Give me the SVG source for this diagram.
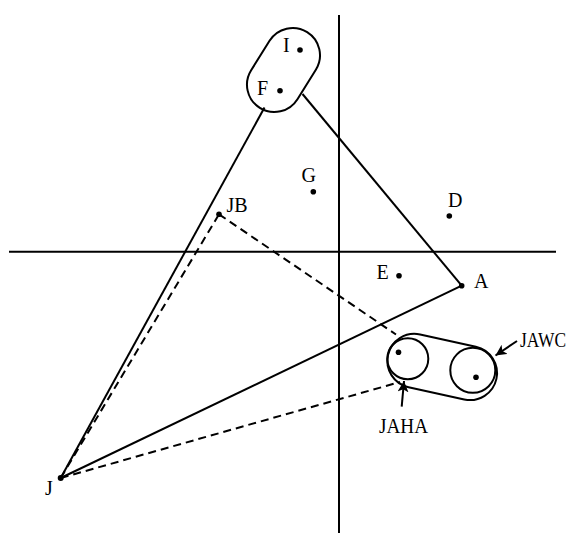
<svg xmlns="http://www.w3.org/2000/svg" width="576" height="533" viewBox="0 0 576 533">
<defs>
<style>
.ln{stroke:#000;stroke-width:2;fill:none}
.dash{stroke:#000;stroke-width:2;fill:none;stroke-dasharray:8 5}
.dot{fill:#000}
.lbl{font-family:"Liberation Serif","Times New Roman",serif;font-size:20px;fill:#000}
.shape{stroke:#000;stroke-width:2;fill:none}
</style>
<marker id="ah" viewBox="0 0 10 10" refX="10" refY="5" markerWidth="11" markerHeight="11" markerUnits="userSpaceOnUse" orient="auto">
<path d="M0,0 L10,5 L0,10 L2.5,5 Z" fill="#000"/>
</marker>
</defs>
<rect width="576" height="533" fill="#fff"/>
<g id="axes">
<line class="ln" x1="339" y1="15" x2="339" y2="533"/>
<line class="ln" x1="9" y1="251.7" x2="556" y2="251.7"/>
</g>
<g id="connectors">
<line class="ln" x1="60.7" y1="478" x2="264.5" y2="107.5"/>
<line class="ln" x1="302.5" y1="94" x2="461.7" y2="285.7"/>
<line class="ln" x1="461.7" y1="285.7" x2="60.7" y2="478"/>
<line class="dash" x1="219" y1="214.3" x2="396" y2="334.5"/>
<line class="dash" x1="60.7" y1="478" x2="219" y2="214.3"/>
<line class="dash" x1="60.7" y1="478" x2="400" y2="382"/>
<line class="ln" x1="401.7" y1="406.7" x2="404" y2="381" marker-end="url(#ah)"/>
<line class="ln" x1="517" y1="341" x2="495.5" y2="355.5" marker-end="url(#ah)"/>
</g>
<g id="IF-group">
<rect class="shape" x="-27.3" y="-44.65" width="54.6" height="89.3" rx="27.3" transform="translate(283.5 70) rotate(32)"/>
</g>
<g id="I"><circle class="dot" cx="300" cy="50" r="2.8"/><text class="lbl" x="283" y="52">I</text></g>
<g id="F"><circle class="dot" cx="280" cy="90.7" r="2.8"/><text class="lbl" x="257" y="95">F</text></g>
<g id="G"><circle class="dot" cx="313.3" cy="191.7" r="2.8"/><text class="lbl" x="301.5" y="181.7">G</text></g>
<g id="JB"><circle class="dot" cx="219" cy="214.3" r="2.8"/><text class="lbl" x="226.5" y="211.7">JB</text></g>
<g id="D"><circle class="dot" cx="449.3" cy="216" r="2.8"/><text class="lbl" x="448" y="206.7">D</text></g>
<g id="E"><circle class="dot" cx="399" cy="275.7" r="2.8"/><text class="lbl" x="376.5" y="279.3">E</text></g>
<g id="A"><circle class="dot" cx="461.7" cy="285.7" r="2.8"/><text class="lbl" x="474" y="288.3">A</text></g>
<g id="J"><circle class="dot" cx="60.7" cy="478" r="3"/><text class="lbl" x="45" y="495">J</text></g>
<g id="JAHA-JAWC-group">
<rect class="shape" x="-55.5" y="-27" width="111" height="54" rx="27" transform="translate(442.2 366.95) rotate(12.37)"/>
</g>
<g id="JAHA">
<circle class="shape" cx="407.8" cy="358.7" r="20.5"/>
<circle class="dot" cx="398.5" cy="352.3" r="2.8"/>
<text class="lbl" x="379" y="433" textLength="49" lengthAdjust="spacingAndGlyphs">JAHA</text>
</g>
<g id="JAWC">
<circle class="shape" cx="472.8" cy="370.3" r="22.5"/>
<circle class="dot" cx="476" cy="377.3" r="2.8"/>
<text class="lbl" x="520" y="347" textLength="46" lengthAdjust="spacingAndGlyphs">JAWC</text>
</g>
</svg>
